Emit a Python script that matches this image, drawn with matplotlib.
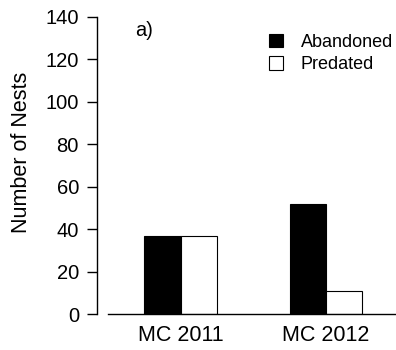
import matplotlib
matplotlib.use("Agg")
import matplotlib.pyplot as plt
from matplotlib.patches import Patch
import numpy as np

plt.rcParams['font.family'] = ['Liberation Sans', 'DejaVu Sans']

# data
sites = ['MC 2011', 'MC 2012']
abandoned = [37, 52]
predated = [37, 11]
y_ticks = [0, 20, 40, 60, 80, 100, 120, 140]

W, H = 396, 350
fig = plt.figure(figsize=(W / 100, H / 100), dpi=100)
# axes in pixel terms: left at x=97, bottom at y=314, top at y=17
ax = fig.add_axes([97 / W, (H - 314) / H, (W - 97) / W, (314 - 17) / H])

# bars of width 1, two units between the groups
group_left = np.array([1.0, 5.0])
ax.bar(group_left + 0.5, abandoned, width=1.0, color='black',
       edgecolor='black', linewidth=0.8)
ax.bar(group_left + 1.5, predated, width=1.0, color='white',
       edgecolor='black', linewidth=0.8)

x_lo, x_hi = -0.30, 7.93
ax.set_xlim(x_lo, x_hi)
ax.set_ylim(0, 140)
ax.axhline(0, xmin=-x_lo / (x_hi - x_lo), xmax=1, color='black',
           linewidth=1.0, clip_on=False)

for s in ['top', 'right', 'bottom']:
    ax.spines[s].set_visible(False)
ax.spines['left'].set_linewidth(1.0)
ax.spines['left'].set_bounds(0, 140)

ax.set_yticks(y_ticks)
ax.tick_params(axis='y', direction='out', length=7, width=1.0, pad=6,
               labelsize=14.5)
ax.set_xticks(group_left + 1.0)
ax.set_xticklabels(sites)
ax.tick_params(axis='x', length=0, pad=8, labelsize=15.5)

fig.text(22 / W, (H - 152) / H, 'Number of Nests', rotation=90,
         ha='center', va='center', fontsize=15.5)

ax.text(135 / W, (H - 31) / H, 'a)', transform=fig.transFigure,
        ha='left', va='center', fontsize=14.5)

handles = [Patch(facecolor='black', edgecolor='black', linewidth=0.8),
           Patch(facecolor='white', edgecolor='black', linewidth=0.8)]
ax.legend(handles, ['Abandoned', 'Predated'], loc='upper left',
          bbox_to_anchor=(269 / W, (H - 34) / H),
          bbox_transform=fig.transFigure, frameon=False, fontsize=13,
          handlelength=0.77, handleheight=0.77, handletextpad=1.0,
          labelspacing=0.3, borderpad=0, borderaxespad=0)

fig.savefig('out.png', dpi=100)
